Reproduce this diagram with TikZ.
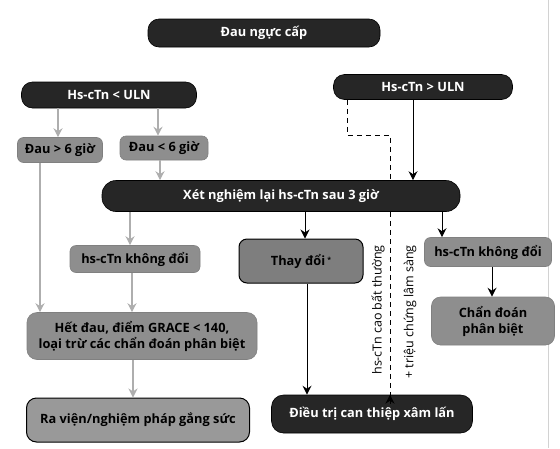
\documentclass[tikz,border=0pt]{standalone}
\usepackage{fontspec}
\setmainfont{Open Sans}
\usetikzlibrary{arrows.meta}
\definecolor{boxblack}{HTML}{262626}
\definecolor{boxgray}{HTML}{8E8E8E}
\definecolor{boxgraydark}{HTML}{7E7E7E}
\definecolor{arrgray}{HTML}{AEAEAE}
\tikzset{
  blackbox/.style={draw=black, fill=boxblack, text=white, rounded corners=11pt,
    font=\fontsize{12.8}{14}\selectfont\bfseries, inner sep=0pt, line width=0.6pt},
  graybox/.style={draw=boxgray!90!black, fill=boxgray, text=black, rounded corners=6pt,
    font=\fontsize{12.8}{16}\selectfont\bfseries, inner sep=0pt, align=center, line width=0.6pt},
  outlinedbox/.style={graybox, draw=black, line width=1pt, rounded corners=8pt},
  garrow/.style={draw=arrgray, line width=1.2pt, -{Stealth[length=9pt,width=9pt,inset=3pt]}},
  barrow/.style={draw=black, line width=0.9pt, -{Stealth[length=9pt,width=9pt,inset=3pt]}},
  darrow/.style={draw=black, line width=0.9pt, dash pattern=on 5pt off 4pt},
  sidelabel/.style={rotate=90, font=\fontsize{12.5}{14}\selectfont, inner sep=0pt}
}
\begin{document}
\begin{tikzpicture}[x=1pt,y=-1pt]
\useasboundingbox (0,0) rectangle (560,448);
\fill[white] (0,0) rectangle (560,448);
\draw[gray!35, line width=1pt] (548,0) -- (548,448);

% nodes
\node[blackbox, minimum width=232pt, minimum height=28pt] (top) at (264,33) {Đau ngực cấp};
\node[blackbox, minimum width=175pt, minimum height=26pt] (ulnlo) at (109,95) {Hs-cTn < ULN};
\node[blackbox, minimum width=179pt, minimum height=25pt] (ulnhi) at (423,87) {Hs-cTn > ULN};
\node[graybox, minimum width=85pt, minimum height=25pt] (dau6g) at (60,150) {Đau > 6 giờ};
\node[graybox, minimum width=88pt, minimum height=24pt] (dau6l) at (164,148) {Đau < 6 giờ};
\node[blackbox, minimum width=358pt, minimum height=31pt, rounded corners=14pt] (xn) at (281,196) {Xét nghiệm lại hs-cTn sau 3 giờ};
\node[graybox, minimum width=130pt, minimum height=27pt] (khong1) at (135,259) {hs-cTn không đổi};
\node[outlinedbox, fill=boxgraydark, minimum width=124pt, minimum height=44pt] (thay) at (301,261) {Thay đổi\,\raisebox{3pt}{\scriptsize *}};
\node[graybox, minimum width=127pt, minimum height=29pt] (khong2) at (488,252) {hs-cTn không đổi};
\node[graybox, minimum width=230pt, minimum height=47pt, rounded corners=10pt] (hetdau) at (142,336) {Hết đau, điểm GRACE < 140,\\loại trừ các chẩn đoán phân biệt};
\node[graybox, minimum width=123pt, minimum height=48pt, rounded corners=9pt] (chandoan) at (493,321) {Chẩn đoán\\phân biệt};
\node[outlinedbox, fill=boxgray!90!white, minimum width=223pt, minimum height=44pt, rounded corners=10pt] (raven) at (138,420) {Ra viện/nghiệm pháp gắng sức};
\node[blackbox, minimum width=201pt, minimum height=38pt, rounded corners=12pt] (dieutri) at (372,414) {Điều trị can thiệp xâm lấn};

\node[sidelabel] (lab1) at (378,310) {hs-cTn cao bất thường};
\node[sidelabel] (lab2) at (410,312) {+ triệu chứng lâm sàng};

% gray arrows
\draw[garrow] (ulnlo.south -| 58,0) -- (dau6g.north -| 58,0);
\draw[garrow] (ulnlo.south -| 158,0) -- (dau6l.north -| 158,0);
\draw[garrow] (dau6g.south -| 40,0) -- (hetdau.north -| 40,0);
\draw[garrow] (dau6l.south -| 160,0) -- (xn.north -| 160,0);
\draw[garrow] (xn.south -| 130,0) -- (khong1.north -| 130,0);
\draw[garrow] (khong1.south -| 132,0) -- (hetdau.north -| 132,0);
\draw[garrow] (hetdau.south -| 133,0) -- (raven.north -| 133,0);

% black arrows
\draw[barrow] (ulnhi.south -| 413,0) -- (xn.north -| 413,0);
\draw[barrow] (xn.south -| 305,0) -- (thay.north -| 305,0);
\draw[barrow] (xn.south -| 442,0) -- (khong2.north -| 442,0);
\draw[barrow] (thay.south -| 307,0) -- (dieutri.north -| 307,0);
\draw[barrow] (khong2.south -| 492,0) -- (chandoan.north -| 492,0);

% dashed path
\coordinate (d1) at (347,135);
\coordinate (d2) at (390,135);
\draw[darrow] (ulnhi.south -| d1) -- (d1) -- (d2) -- (xn.north -| d2);
\draw[darrow] (xn.south -| d2) -- ([yshift=-9pt]dieutri.north -| d2);
\draw[barrow] ([yshift=-9pt]dieutri.north -| d2) -- (dieutri.north -| d2);
\end{tikzpicture}
\end{document}
